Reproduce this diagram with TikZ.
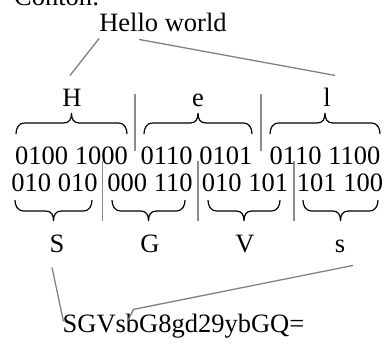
\documentclass[tikz,border=0pt]{standalone}
\usepackage{fontspec}
\setmainfont{Liberation Serif}
\usetikzlibrary{calc}
\newcommand\mybrace[4]{%
  \pgfmathsetmacro\bm{(#1+#2)/2}%
  \pgfmathsetmacro\ya{#3-#4*11}%
  \pgfmathsetmacro\yb{#3-#4*21}%
  \pgfmathsetmacro\yc{#3-#4*5}%
  \pgfmathsetmacro\yd{#3-#4*15}%
  \draw[brc] (#1,#3) .. controls (#1,\yc) and (#1+2,\ya) .. (#1+9,\ya) -- (\bm-8,\ya)
    .. controls (\bm-2,\ya) and (\bm,\yd) .. (\bm,\yb)
    .. controls (\bm,\yd) and (\bm+2,\ya) .. (\bm+8,\ya) -- (#2-9,\ya)
    .. controls (#2-2,\ya) and (#2,\yc) .. (#2,#3);%
}
\begin{document}
\begin{tikzpicture}[x=1pt,y=-1pt,
  font=\fontsize{26.5}{30}\selectfont,
  txt/.style={inner sep=0pt, anchor=base},
  link/.style={draw=black!50, line width=1.3pt},
  sepline/.style={draw=black!45, line width=1.3pt},
  brc/.style={draw=black, line width=1.2pt}]
\useasboundingbox (0,0) rectangle (385,347);

\node[txt, anchor=base west] (title) at (14,6) {Contoh:};
\node[txt] (hello) at (163,32) {Hello world};

\node[txt] (H) at (72,107) {H};
\node[txt] (e) at (198,107) {e};
\node[txt] (l) at (327,107) {l};

\node[txt] (b1) at (71.5,165) {0100 1000};
\node[txt] (b2) at (196.5,165) {0110 0101};
\node[txt] (b3) at (325,165) {0110 1100};

\node[txt] (c1) at (54.5,192) {010 010};
\node[txt] (c2) at (150,192) {000 110};
\node[txt] (c3) at (245,192) {010 101};
\node[txt] (c4) at (340,192) {101 100};

\node[txt] (S) at (57,252) {S};
\node[txt] (G) at (150,252) {G};
\node[txt] (V) at (245,252) {V};
\node[txt] (s) at (340,252) {s};

\node[txt] (res) at (183.5,332) {SGVsbG8gd29ybGQ=};

% connectors
\draw[link] ($(hello.south west)+(0,6)$) -- ($(H.north)+(-2,-14)$);
\draw[link] ($(hello.south west)+(40,7)$) -- ($(l.north)+(8,-13)$);
\draw[link] ($(S.south)+(-5,15)$) -- ($(res.north west)+(1,8)$);
\coordinate (bend) at ($(res.north west)+(71,-4)$);
\draw[link] ($(s.south)+(13,13)$) -- (bend) -- ($(res.north west)+(65,8)$);

% separators
\draw[sepline] (135,94) -- (135,151);
\draw[sepline] (261,94) -- (261,151);
\draw[sepline] (102.5,161) -- (102.5,221);
\draw[sepline] (198,161) -- (198,221);
\draw[sepline] (294,161) -- (294,221);

% braces
\mybrace{16}{127}{134}{1}
\mybrace{144}{252}{134}{1}
\mybrace{270}{380}{134}{1}
\mybrace{15}{92}{200}{-1}
\mybrace{112}{185}{200}{-1}
\mybrace{208}{280}{200}{-1}
\mybrace{303}{378}{200}{-1}
\end{tikzpicture}
\end{document}
